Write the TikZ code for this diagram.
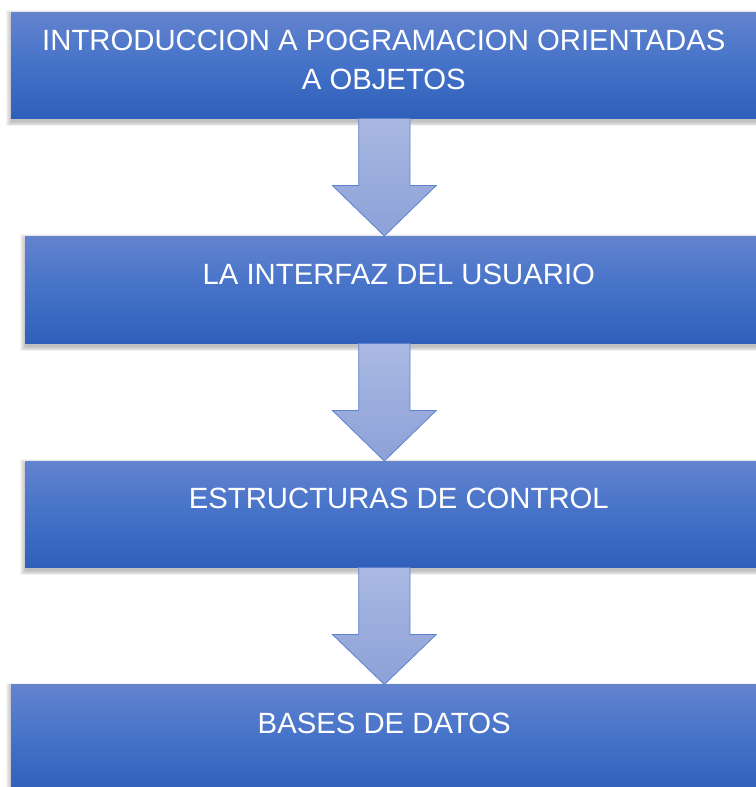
\documentclass[tikz,border=0pt]{standalone}
\usepackage{fontspec}
\setmainfont{Liberation Sans}
\usetikzlibrary{calc}
\definecolor{boxtop}{RGB}{99,131,206}
\definecolor{boxmid}{RGB}{68,114,200}
\definecolor{boxbot}{RGB}{47,95,186}
\definecolor{arrtop}{RGB}{170,185,226}
\definecolor{arrbot}{RGB}{140,161,216}
\definecolor{arrline}{RGB}{96,130,205}
\newcommand{\softshadow}[1]{%
  \foreach \i in {1,...,6}{%
    \fill[black, opacity=0.045]
      ($(#1.north west)+(-\i*0.9+0.5, 3-\i*0.9+0.5)$) rectangle
      ($(#1.south east)+(\i*0.9-0.5, 3+\i*0.9-0.5)$);}}
\tikzset{
  geom/.style={rectangle, inner sep=0pt, minimum height=106pt},
  lbl/.style={text=white, inner sep=0pt, font=\fontsize{29.3}{39.3}\selectfont},
  blockarrow/.style={top color=arrtop, bottom color=arrbot,
    draw=arrline, line width=0.8pt, line join=miter}
}
\newcommand{\stagearrow}[2]{%
  \path[blockarrow] let \p1=(axis |- #1.south), \p2=(axis |- #2.north) in
    (\x1-25.65pt,\y1) -- (\x1+25.65pt,\y1) -- (\x1+25.65pt,\y1-67pt)
    -- (\x1+52pt,\y1-67pt) -- (\x2,\y2) -- (\x1-52pt,\y1-67pt)
    -- (\x1-25.65pt,\y1-67pt) -- cycle;}
\begin{document}
\begin{tikzpicture}[x=1pt,y=-1pt]
\useasboundingbox (0,0) rectangle (755,787);
\fill[white] (-5,-5) rectangle (790,800);
% box geometry (boxes run past the right edge of the page)
\path node[geom, minimum width=780pt, anchor=north west] (b1) at (11,12) {}
      node[geom, minimum width=780pt, minimum height=107pt, anchor=north west] (b2) at (25,236) {}
      node[geom, minimum width=780pt, anchor=north west] (b3) at (25,461) {}
      node[geom, minimum width=780pt, minimum height=110pt, anchor=north west] (b4) at (11,684.5) {};
\coordinate (axis) at (384.35,0);
% shadows
\softshadow{b1}
\softshadow{b2}
\softshadow{b3}
\softshadow{b4}
% boxes
\foreach \b in {b1,b2,b3,b4}{
  \fill[boxmid] (\b.north west) rectangle (\b.south east);
  \shade[top color=boxtop, bottom color=boxbot, middle color=boxmid]
    (\b.north west) rectangle (\b.south east);
}
% arrows
\stagearrow{b1}{b2}
\stagearrow{b2}{b3}
\stagearrow{b3}{b4}
% labels
\node[lbl, anchor=base] (t1a) at (383.8,50) {INTRODUCCION A POGRAMACION ORIENTADAS};
\node[lbl, anchor=base] (t1b) at (383.8,89.3) {A OBJETOS};
\node[lbl, anchor=base] (t2) at (398.8,284.3) {LA INTERFAZ DEL USUARIO};
\node[lbl, anchor=base] (t3) at (398.8,508.7) {ESTRUCTURAS DE CONTROL};
\node[lbl, anchor=base] (t4) at (384.2,733.7) {BASES DE DATOS};
\end{tikzpicture}
\end{document}
